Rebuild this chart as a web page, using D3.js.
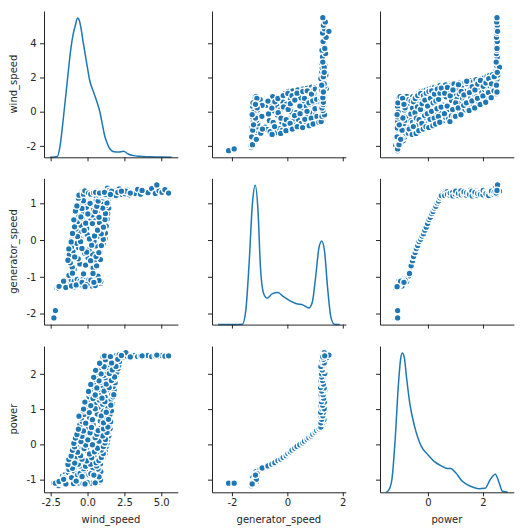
<!DOCTYPE html>
<html><head><meta charset="utf-8">
<script src="https://cdn.jsdelivr.net/npm/d3@7"></script>
<style>body{margin:0;background:#fff}svg{display:block}text{font-family:"DejaVu Sans",sans-serif}</style>
</head><body><svg id="chart" width="524" height="532"></svg>
<script>
const variables = ["wind_speed", "generator_speed", "power"];

const windSpeed = [
 -2.10,-2.00,-1.95,-1.85,-1.80,-1.72,-1.65,-1.60,-1.52,-1.45,
 -1.40,-1.33,-1.25,-1.20,-1.12,-1.05,-1.00,-0.92,-0.85,-0.80,
 -0.72,-0.65,-0.60,-0.52,-0.45,-0.40,-0.32,-0.25,-0.20,-0.12,
 -0.05,0.00,0.08,0.15,0.20,0.28,0.35,0.40,0.48,0.55,
 0.60,0.68,0.75,0.82,0.88,-0.55,-0.30,0.10,0.30,-0.95,
 -1.70,-1.50,-1.30,-1.10,-0.90,-0.70,-0.50,-0.30,-0.10,0.10,
 0.30,0.50,0.70,0.90,-1.58,
 -1.26,-0.27,0.71, -0.91,0.38,-1.04, -1.17,-0.52,0.49, -0.63,0.04,0.88,
 -1.23,-0.19,0.33, -0.98,0.11,0.83, -1.08,-0.61,0.57, -0.74,0.26,1.06,
 -1.12,-0.41,0.44, -0.53,0.29,1.19, -0.89,-0.02,0.74, -0.57,0.62,1.21,
 -0.79,-0.06,0.99, -0.46,0.41,1.27, -0.69,0.21,0.81, -0.36,0.53,1.33,
 -0.58,0.31,1.01, -0.27,0.64,1.37, -0.76,0.42,1.14, -0.08,0.86,1.44,
 -0.52,0.36,1.24, -0.16,0.96,1.41, -0.61,0.57,1.29, 0.06,0.91,1.53,
 -0.52,0.38,1.46, -0.36,0.87,1.57, -0.41,0.13,1.21, -0.24,0.66,1.52,
 -0.31,0.24,1.07,1.62, -0.09,0.74,1.36, -0.11,0.51,1.03,1.67, 0.09,0.79,1.54,
 0.11,0.67,1.19,1.72, 0.18,0.94,1.63, 0.21,0.82,1.31,1.81, 0.39,1.04,1.74,
 0.48,0.86,1.56,1.87, 0.51,1.26,1.77, 0.66,1.11,1.58,1.93, 0.64,1.29,1.98,
 0.81,1.32,1.71,2.07, 0.98,1.49,2.12, 1.04,1.44,1.89,2.17,
 1.05,1.25,1.45,1.60,1.75,1.90,2.05,2.20,2.35,2.45,2.55,2.70,2.85,3.00,
 3.20,3.40,3.60,3.85,4.10,4.35,4.60,4.85,5.05,5.25,5.50,2.15,1.35,
 4.70,2.60,-2.28,-2.18,
 -1.02,0.37, -0.13,0.62, -1.33,0.21, -0.87,0.58, -0.06,0.77, -1.27,-0.38,
 0.28,0.94, -1.11,-0.47, 0.13,1.07, -0.68,0.47, -1.02,0.93, -0.23,0.68,
 -0.88,1.08, -0.12,0.33, -0.93,1.18, -0.45,0.78, 0.02,1.22, -0.82,0.52,
 -0.38,1.03, -0.72,0.63, 0.17,1.32, -0.28,0.72, -0.62,1.08, 0.27,1.38,
 -0.12,1.08, 0.33,1.42, -0.58,0.93, 0.12,1.27, -0.27,0.52, 0.22,1.58,
 -0.18,1.18, 0.37,0.98, 0.52,1.78, 0.07,1.12, 0.63,1.47, 0.22,1.27,
 0.78,1.62, 0.42,1.83, 0.92,1.48, 0.55,1.68, 1.12,1.93, 0.82,1.63, 1.22,2.05,
 -1.93,-1.47,-1.08,-0.77,-0.37,-0.03,0.23,0.52,0.78,-1.62,-0.17,0.43,
 1.15,1.55,2.30,2.90,3.70
];
const generatorSpeed = [
 -1.30,-1.27,-1.31,-1.24,-1.29,-1.22,-1.27,-1.18,-1.25,-1.20,
 -1.15,-1.22,-1.17,-1.24,-1.14,-1.19,-1.12,-1.21,-1.15,-1.10,
 -1.18,-1.13,-1.20,-1.11,-1.16,-1.12,-1.19,-1.14,-1.10,-1.17,
 -1.13,-1.18,-1.12,-1.15,-1.11,-1.16,-1.13,-1.19,-1.14,-1.11,
 -1.17,-1.13,-1.16,-1.12,-1.18,-1.23,-1.26,-1.21,-1.25,-1.28,
 -1.14,-1.10,-1.13,-1.08,-1.12,-1.07,-1.11,-1.06,-1.10,-1.08,
 -1.12,-1.06,-1.09,-1.13,-1.15,
 -0.96,-0.92,-0.98, -0.80,-0.76,-0.74, -0.62,-0.65,-0.59, -0.51,-0.48,-0.53,
 -0.40,-0.36,-0.38, -0.29,-0.26,-0.30, -0.18,-0.20,-0.16, -0.09,-0.06,-0.10,
 -0.01,0.02,-0.03, 0.06,0.08,0.04, 0.13,0.15,0.11, 0.21,0.23,0.19,
 0.30,0.32,0.28, 0.40,0.42,0.38, 0.50,0.52,0.48, 0.59,0.61,0.57,
 0.66,0.68,0.64, 0.74,0.76,0.72, 0.82,0.84,0.80, 0.89,0.91,0.87,
 0.96,0.98,0.94, 1.03,1.05,1.01, 1.10,1.12,1.08, 1.17,1.19,1.15,
 1.24,1.30,1.21, 1.27,1.22,1.33, 1.29,1.25,1.20, 1.23,1.31,1.26,
 1.28,1.21,1.35,1.24, 1.26,1.22,1.30, 1.20,1.29,1.25,1.32, 1.27,1.23,1.34,
 1.22,1.28,1.21,1.30, 1.25,1.31,1.23, 1.29,1.20,1.27,1.36, 1.24,1.33,1.22,
 1.28,1.21,1.26,1.34, 1.23,1.30,1.25, 1.27,1.22,1.32,1.24, 1.29,1.21,1.35,
 1.24,1.31,1.20,1.27, 1.26,1.33,1.22, 1.30,1.23,1.28,1.36,
 1.26,1.32,1.22,1.29,1.25,1.34,1.21,1.28,1.24,1.31,1.26,1.36,1.23,1.30,
 1.27,1.38,1.25,1.32,1.29,1.40,1.27,1.34,1.30,1.37,1.28,1.39,1.41,
 1.50,1.33,-2.12,-1.92,
 -0.90,-0.91, -0.68,-0.70, -0.55,-0.56, -0.46,-0.45, -0.33,-0.34, -0.24,-0.23,
 -0.14,-0.15, -0.05,-0.04, 0.03,0.02, 0.10,0.11, 0.18,0.17, 0.26,0.27,
 0.36,0.35, 0.46,0.45, 0.55,0.56, 0.63,0.62, 0.71,0.72, 0.79,0.78,
 0.86,0.87, 0.93,0.92, 1.00,1.01, 1.07,1.06, 1.14,1.15, 1.20,1.21,
 1.26,1.21, 1.32,1.24, 1.22,1.28, 1.30,1.20, 1.25,1.33, 1.21,1.27,
 1.34,1.23, 1.26,1.31, 1.22,1.29, 1.28,1.24, 1.33,1.20, 1.25,1.30,
 1.21,1.27, 1.29,1.24, 1.23,1.35, 1.30,1.26, 1.25,1.21, 1.28,1.33, 1.24,1.30,
 -1.26,-1.29,-1.25,-1.22,-1.15,-1.21,-1.09,-1.24,-1.10,-1.12,-1.27,-1.15,
 1.30,1.24,1.33,1.28,1.35
];
const power = [
 -1.15,-1.10,-1.17,-1.09,-1.11,-1.10,-1.08,-1.11,-1.09,-1.07,
 -1.10,-1.06,-1.09,-1.04,-1.08,-1.03,-1.10,-1.02,-1.07,-1.01,
 -1.09,-0.99,-1.05,-1.00,-1.08,-0.98,-1.03,-0.97,-1.06,-1.00,
 -0.96,-1.04,-0.99,-1.07,-0.97,-1.02,-0.95,-1.05,-0.98,-1.01,
 -0.96,-1.03,-0.99,-1.06,-1.01,-1.10,-1.11,-1.09,-1.10,-1.11,
 -0.90,-0.85,-0.80,-0.92,-0.76,-0.88,-0.82,-0.93,-0.78,-0.86,
 -0.80,-0.90,-0.84,-0.77,-0.95,
 -0.71,-0.69,-0.70, -0.66,-0.64,-0.63, -0.60,-0.61,-0.59, -0.56,-0.54,-0.55,
 -0.51,-0.49,-0.50, -0.46,-0.44,-0.45, -0.40,-0.41,-0.39, -0.36,-0.34,-0.35,
 -0.30,-0.29,-0.31, -0.25,-0.24,-0.26, -0.20,-0.19,-0.21, -0.15,-0.14,-0.16,
 -0.10,-0.09,-0.11, -0.05,-0.04,-0.06, 0.00,0.01,-0.01, 0.05,0.06,0.04,
 0.10,0.11,0.09, 0.15,0.16,0.14, 0.20,0.21,0.19, 0.25,0.26,0.24,
 0.30,0.31,0.29, 0.35,0.36,0.34, 0.40,0.41,0.39, 0.45,0.46,0.44,
 0.55,0.56,0.54, 0.65,0.66,0.64, 0.75,0.76,0.74, 0.85,0.86,0.84,
 0.95,0.96,0.94,0.95, 1.05,1.06,1.04, 1.15,1.16,1.14,1.15, 1.25,1.26,1.24,
 1.35,1.36,1.34,1.35, 1.45,1.46,1.44, 1.55,1.56,1.54,1.55, 1.65,1.66,1.64,
 1.75,1.76,1.74,1.75, 1.85,1.86,1.84, 1.95,1.96,1.94,1.95, 2.05,2.06,2.04,
 2.15,2.16,2.14,2.15, 2.25,2.26,2.24, 2.35,2.36,2.34,2.35,
 2.48,2.50,2.46,2.52,2.49,2.51,2.47,2.53,2.50,2.48,2.52,2.49,2.51,2.50,
 2.52,2.49,2.51,2.50,2.52,2.49,2.51,2.50,2.52,2.50,2.51,2.54,2.45,
 2.53,2.60,-1.10,-1.10,
 -0.68,-0.67, -0.62,-0.61, -0.57,-0.56, -0.53,-0.52, -0.47,-0.46, -0.43,-0.42,
 -0.38,-0.37, -0.33,-0.32, -0.27,-0.26, -0.22,-0.21, -0.17,-0.16, -0.12,-0.11,
 -0.07,-0.06, -0.02,-0.01, 0.03,0.04, 0.08,0.09, 0.13,0.14, 0.18,0.19,
 0.23,0.24, 0.28,0.29, 0.33,0.34, 0.38,0.39, 0.43,0.44, 0.48,0.49,
 0.60,0.61, 0.70,0.71, 0.80,0.81, 0.90,0.91, 1.00,1.01, 1.10,1.11,
 1.20,1.21, 1.30,1.31, 1.40,1.41, 1.50,1.51, 1.60,1.61, 1.70,1.71,
 1.80,1.81, 1.90,1.91, 2.00,2.01, 2.10,2.11, 2.20,2.21, 2.30,2.31, 2.40,2.41,
 -1.05,-1.12,-0.94,-1.04,-0.91,-1.08,-0.83,-1.09,-0.92,-0.99,-1.12,-0.87,
 2.51,2.49,2.52,2.48,2.51
];

// diagonal density curves (relative height)
const windKdeX = [-2.54,-2.05,-1.87,-1.60,-1.36,-1.13,-0.98,-0.82,-0.67,-0.55,-0.45,-0.27,0.00,0.13,0.40,0.63,0.85,1.00,1.15,1.30,1.52,1.80,2.10,2.45,2.75,3.10,3.50,4.20,5.10,5.71];
const windKdeY = [0,0.005,0.077,0.32,0.56,0.78,0.88,0.95,1.0,0.98,0.93,0.81,0.64,0.56,0.47,0.40,0.32,0.24,0.16,0.11,0.06,0.04,0.038,0.043,0.024,0.012,0.007,0.004,0.002,0];
const genKdeX = [-2.50,-1.62,-1.50,-1.38,-1.26,-1.16,-1.06,-0.97,-0.85,-0.73,-0.55,-0.34,-0.14,0.10,0.33,0.57,0.78,0.90,1.02,1.14,1.24,1.34,1.45,1.57,1.69,1.89];
const genKdeY = [0,0.003,0.10,0.44,0.87,1.0,0.82,0.41,0.22,0.19,0.22,0.23,0.20,0.17,0.15,0.14,0.12,0.16,0.34,0.55,0.60,0.53,0.27,0.055,0.003,0];
const powerKdeX = [-1.52,-1.43,-1.31,-1.19,-1.07,-0.99,-0.93,-0.86,-0.78,-0.66,-0.48,-0.24,0.00,0.24,0.48,0.71,0.83,1.01,1.25,1.55,1.84,2.08,2.26,2.45,2.59,2.71,2.90];
const powerKdeY = [0,0.014,0.09,0.38,0.78,0.96,1.0,0.97,0.83,0.64,0.47,0.33,0.27,0.22,0.19,0.17,0.17,0.14,0.079,0.043,0.026,0.029,0.09,0.13,0.067,0.007,0];

// tick labels
const windTicksX = [-2.5, 0, 2.5, 5.0];
const genTicksX = [-2, 0, 2];
const powerTicksX = [0, 2];
const windTicksY = [-2, 0, 2, 4];
const genTicksY = [-2, -1, 0, 1];
const powerTicksY = [-1, 0, 1, 2];

const values = [windSpeed, generatorSpeed, power];
const kdes = [[windKdeX, windKdeY], [genKdeX, genKdeY], [powerKdeX, powerKdeY]];
const xTicks = [windTicksX, genTicksX, powerTicksX];
const yTicks = [windTicksY, genTicksY, powerTicksY];
const xFormats = [".1f", "d", "d"];

const colLeft = [44, 212, 380];
const rowTop = [11, 178.3, 346];
const W = 133.8, H = 146.3;
const ink = "#262626", blue = "#1f77b4";

function pad(ext) { const r = ext[1] - ext[0]; return [ext[0] - 0.05 * r, ext[1] + 0.05 * r]; }
const xDomains = values.map((v, k) => pad(d3.extent(v.concat(kdes[k][0]))));
const yDomains = values.map(v => pad(d3.extent(v)));
const fmtMinus = f => d => d3.format(f)(d).replace("\u2212", "-");

const svg = d3.select("#chart");
const records = windSpeed.map((_, i) => i);

for (let r = 0; r < 3; r++) {
  for (let c = 0; c < 3; c++) {
    const g = svg.append("g").attr("transform", `translate(${colLeft[c]},${rowTop[r]})`);
    const x = d3.scaleLinear().domain(xDomains[c]).range([0, W]);
    const y = d3.scaleLinear().domain(yDomains[r]).range([H, 0]);
    if (r === c) {
      const [kx, ky] = kdes[c];
      const yk = d3.scaleLinear().domain([0, d3.max(ky) * 1.05]).range([H, 0]);
      g.append("path")
        .datum(kx.map((v, i) => [v, ky[i]]))
        .attr("fill", "none").attr("stroke", blue).attr("stroke-width", 1.5)
        .attr("d", d3.line().x(d => x(d[0])).y(d => yk(d[1])).curve(d3.curveMonotoneX));
    } else {
      g.selectAll("circle").data(records).join("circle")
        .attr("cx", i => x(values[c][i])).attr("cy", i => y(values[r][i]))
        .attr("r", 3.3).attr("fill", blue).attr("stroke", "#fff").attr("stroke-width", 1.3);
    }
    const ax = g.append("g").attr("transform", `translate(0,${H})`)
      .call(d3.axisBottom(x).tickValues(xTicks[c]).tickSize(4).tickSizeOuter(0).tickPadding(3)
        .tickFormat(r === 2 ? fmtMinus(xFormats[c]) : () => ""));
    const ay = g.append("g")
      .call(d3.axisLeft(y).tickValues(yTicks[r]).tickSize(4).tickSizeOuter(0).tickPadding(3.5)
        .tickFormat(c === 0 ? fmtMinus("d") : () => ""));
    [ax, ay].forEach(a => {
      a.selectAll("path,line").attr("stroke", ink).attr("stroke-width", 1);
      a.selectAll("text").attr("fill", ink).attr("font-size", 10).attr("font-family", "DejaVu Sans");
    });
  }
}

variables.forEach((name, k) => {
  svg.append("text").attr("transform", `translate(13.5,${rowTop[k] + H / 2}) rotate(-90)`)
    .attr("text-anchor", "middle").attr("dominant-baseline", "central")
    .attr("fill", ink).attr("font-size", 10).text(name);
  svg.append("text").attr("x", colLeft[k] + W / 2).attr("y", 519.5)
    .attr("text-anchor", "middle").attr("dominant-baseline", "central")
    .attr("fill", ink).attr("font-size", 10).text(name);
});
</script></body></html>
